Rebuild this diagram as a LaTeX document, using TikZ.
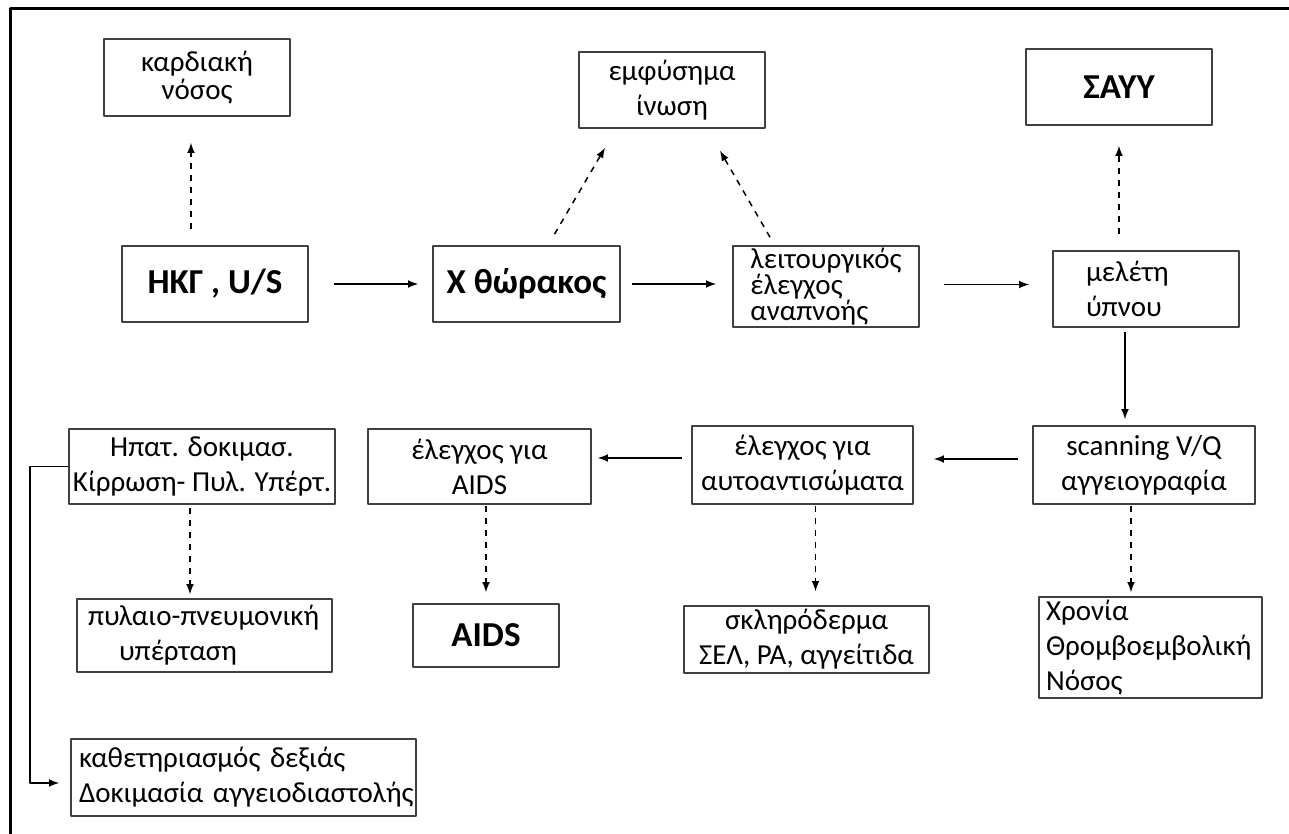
\documentclass[tikz,border=0pt]{standalone}
\usepackage{fontspec}
\setmainfont{Carlito}
\usetikzlibrary{calc}
\newcommand{\txt}{\fontsize{14.5}{17.5}\selectfont\hyphenpenalty=10000\exhyphenpenalty=10000 }
\newcommand{\bigtxt}{\fontsize{17.5}{21}\selectfont\bfseries}
\newcommand{\tighttxt}{\fontsize{14.5}{14}\selectfont\lineskiplimit=-20pt\lineskip=0pt }
\newcommand{\leittxt}{\fontsize{14.5}{13}\selectfont\lineskiplimit=-20pt\lineskip=0pt }
\begin{document}
\begin{tikzpicture}[x=0.5pt, y=-0.5pt, line join=round, >=latex, font=\txt,
    box/.style={draw=black!75, line width=0.8pt, inner sep=0pt, align=center},
    arr/.style={->, line width=0.75pt},
    darr/.style={arr, dashed}]
\useasboundingbox (0,0) rectangle (1289,834);
\draw[line width=1.5pt] (10,834) -- (10,9) -- (1289,9);
% top row
\node[box, minimum width=93pt, minimum height=38.5pt, font=\tighttxt] (kard) at (197,77.5) {καρδιακή\\νόσος};
\node[box, minimum width=93pt, minimum height=38pt] (emf) at (672,90) {εμφύσημα\\ίνωση};
\node[box, minimum width=93pt, minimum height=38pt, font=\bigtxt] (sayy) at (1119,87) {ΣΑΥΥ};
% middle row
\node[box, minimum width=93pt, minimum height=38pt, font=\bigtxt] (hkg) at (215,284) {ΗΚΓ , U/S};
\node[box, minimum width=93.5pt, minimum height=38pt, font=\bigtxt] (xthor) at (526.5,284) {Χ θώρακος};
\node[box, align=left, minimum width=93pt, minimum height=40.5pt, font=\leittxt] (leit) at (826,286.5) {λειτουργικός\\έλεγχος\\αναπνοής};
\node[box, align=left, text width=60pt, inner xsep=16.5pt, minimum height=38pt] (meleti) at (1146,289) {μελέτη\\ύπνου};
% tests row
\node[box, minimum width=111pt, minimum height=39pt] (scan) at (1144,465) {scanning V/Q\\αγγειογραφία};
\node[box, minimum width=110.5pt, minimum height=39pt] (autoant) at (802.5,465) {έλεγχος για\\αυτοαντισώματα};
\node[box, minimum width=111.5pt, minimum height=37.5pt] (aidschk) at (479.5,466.5) {έλεγχος για\\AIDS};
\node[box, minimum width=133pt, minimum height=37.5pt] (ipat) at (202,466.5) {Ηπατ. δοκιμασ.\\Κίρρωση- Πυλ. Υπέρτ.};
% findings
\node[box, align=left, text width=116.5pt, inner xsep=5.5pt, minimum height=36.5pt] (pylaio) at (204.5,635.5) {πυλαιο-πνευμονική\\\hspace*{15.5pt}υπέρταση};
\node[box, minimum width=73pt, minimum height=31.5pt, font=\bigtxt] (aids) at (486,635.5) {AIDS};
\node[box, minimum width=122.5pt, minimum height=33.5pt] (sklir) at (806.5,639.5) {σκληρόδερμα\\ΣΕΛ, ΡΑ, αγγείτιδα};
\node[box, align=left, text width=104.5pt, inner xsep=3.5pt, minimum height=50.5pt] (xronia) at (1150.5,647.5) {Χρονία\\Θρομβοεμβολική\\Νόσος};
\node[box, align=left, text width=164.5pt, inner xsep=4pt, minimum height=38.5pt] (kath) at (243.5,777.5) {\mbox{καθετηριασμός δεξιάς}\\\mbox{Δοκιμασία αγγειοδιαστολής}};
% main path
\draw[arr, shorten <=12.5pt, shorten >=7pt] (hkg.east) -- (xthor.west);
\draw[arr, shorten <=5.5pt, shorten >=8pt] (xthor.east) -- (xthor.east -| leit.west);
\draw[arr, shorten <=12pt, shorten >=11.5pt] ($(leit.east)+(0,-2)$) -- ($(leit.east -| meleti.west)+(0,-2)$);
\draw[arr, shorten <=2pt, shorten >=3pt] ($(meleti.south)+(-21,0)$) -- ($(meleti.south |- scan.north)+(-21,0)$);
\draw[arr, shorten <=7pt, shorten >=10pt] ($(scan.west)+(0,-6)$) -- ($(autoant.east)+(0,-6)$);
\draw[arr, shorten <=4.5pt, shorten >=3pt] ($(autoant.west)+(0,-7)$) -- ($(autoant.west -| aidschk.east)+(0,-7)$);
\draw[arr, shorten >=5.5pt] (ipat.west) -- ++(-38,0) |- ($(kath.west)+(0,5.5)$);
% dashed
\draw[darr, shorten <=8pt, shorten >=13pt] ($(hkg.north -| kard.south)+(-6,0)$) -- ($(kard.south)+(-6,0)$);
\draw[darr] ($(xthor.north)+(28,-11)$) -- ($(emf.south)+(-67,19)$);
\draw[darr] ($(leit.north)+(-56,-8)$) -- ($(emf.south)+(48,22)$);
\draw[darr, shorten <=8pt, shorten >=10pt] (meleti.north -| sayy.south) -- (sayy.south);
\draw[darr, shorten <=1.5pt, shorten >=2pt] ($(ipat.south)+(-12,0)$) -- ($(ipat.south |- pylaio.north)+(-12,0)$);
\draw[darr, shorten <=0.5pt, shorten >=5.5pt] (aidschk.south -| aids.north) -- (aids.north);
\draw[darr, shorten <=0.5pt, shorten >=7pt] ($(autoant.south)+(13,0)$) -- ($(autoant.south |- sklir.north)+(13,0)$);
\draw[darr, shorten <=0.5pt, shorten >=2pt] ($(scan.south)+(-13,0)$) -- ($(scan.south |- xronia.north)+(-13,0)$);
\end{tikzpicture}
\end{document}
